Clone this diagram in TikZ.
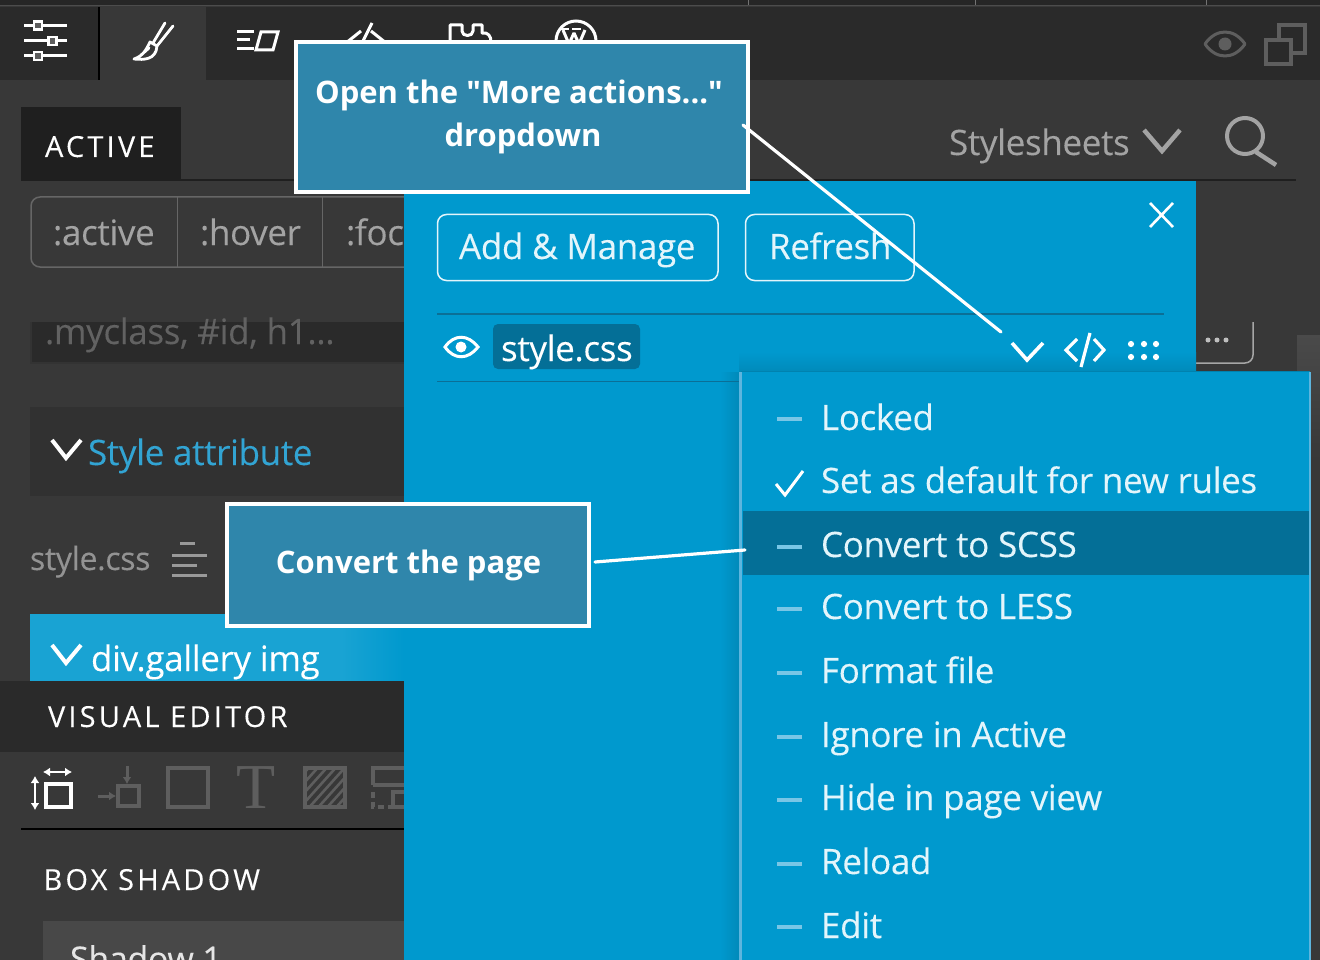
\documentclass[tikz,border=0pt]{standalone}
\usepackage{fontspec}
\usetikzlibrary{arrows.meta}
\setmainfont[Ligatures=TeXOff,LetterSpace=-1,FakeBold=0.15]{Open Sans}
\newfontfamily\spaced[LetterSpace=11,FakeBold=0.15]{Open Sans}
\newfontfamily\calfont[Ligatures=TeXOff]{Open Sans}
\definecolor{bgd}{HTML}{383838}
\definecolor{bar}{HTML}{2A2A2A}
\definecolor{panel}{HTML}{0099CE}
\definecolor{hl}{HTML}{046F97}
\definecolor{cal}{HTML}{2F86AB}
\definecolor{gtxt}{HTML}{A3A3A3}
\definecolor{gicon}{HTML}{5E5E5E}
\definecolor{ltxt}{HTML}{E3F5FB}
\definecolor{rule}{HTML}{0B6F96}
\definecolor{styl}{HTML}{32A4D3}
\definecolor{edge}{HTML}{5DB5DE}
\definecolor{dashc}{HTML}{79C6E6}
\tikzset{
 x=1pt,y=-1pt,
 flat/.style={fill=#1,draw=none},
 callout/.style={draw=white,line width=4pt,fill=cal,inner sep=0pt},
 calltext/.style={inner sep=0pt,text=white,align=center,font=\calfont\fontsize{31}{43}\selectfont\bfseries},
 leader/.style={draw=white,line width=3.2pt,line cap=round},
 ico/.style={draw=#1,line width=3pt,line cap=butt,line join=miter},
 dashmark/.style={draw=dashc,line width=4pt},
 btn/.style={draw=ltxt,line width=1.5pt,rounded corners=9pt},
 lb/.style={anchor=base west,inner sep=0pt,outer sep=0pt},
}
\newcommand{\lbl}[6]{\node[lb,text=#5,font=\fontsize{#4}{#4}\selectfont] (#1) at (#2,#3) {#6};}
\newcommand{\slbl}[6]{\node[lb,text=#5,font=\spaced\fontsize{#4}{#4}\selectfont] (#1) at (#2,#3) {#6};}
\begin{document}
\begin{tikzpicture}
\useasboundingbox (0,0) rectangle (1320,960);
% backgrounds
\fill[bgd] (0,0) rectangle (1320,960);
\fill[flat=black!85] (0,0) rectangle (1320,5);
\draw[draw=black!70,line width=1.5pt] (0,5.5) -- (1320,5.5);
\fill[bar] (0,7) rectangle (1320,80);
\fill[bgd] (100,7) rectangle (206,80);
\draw[black,line width=1.5pt] (99,7) -- (99,80);
\foreach \vx in {748,975,1206}{\draw[black!55,line width=1pt] (\vx,0) -- (\vx,5);}
% toolbar icons
\foreach \yy/\xk in {25.5/38,41/52.5,56/38}{
 \draw[ico=white] (24,\yy) -- (66.5,\yy);
 \draw[white,line width=2.8pt,fill=bar!40!gray] (\xk-4,\yy-4) rectangle (\xk+4,\yy+4);}
\draw[white,line width=2.8pt,line join=round,line cap=round] (165,23) -- (153,43) (173,26) -- (157,46)
  (150,42) .. controls (146,50) and (143,56) .. (134,59) .. controls (144,60) and (156,60) .. (157,46) -- cycle
  (140,56) -- (149,48);
\draw[white,line width=3pt] (237,31.5) -- (254,31.5) (237,40) -- (250,40) (237,49) -- (254,49);
\draw[white,line width=3pt] (261,32) -- (278,32) -- (273,50) -- (256,50) -- cycle;
\draw[white,line width=3pt] (361,31) -- (346,43) (371,31) -- (386,43) (372,23) -- (362,43);
\draw[white,line width=3pt,line join=round] (450,44) -- (450,25) -- (462,25) -- (462,31) .. controls (462,37) and (473,37) .. (473,31) -- (473,25) -- (482,25) -- (482,33) .. controls (488,32) and (491,36) .. (491,42);
\draw[white,line width=3pt] (576,41) circle (20);
\draw[white,line width=3pt,line join=bevel] (563,30) -- (569,44) -- (574,33) -- (579,44) -- (585,30);
\draw[white,line width=2.4pt] (560,29) -- (569,29) (572,29) -- (581,29);
% right toolbar icons
\draw[gicon,line width=3pt,line join=round] (1205,44) .. controls (1216,28) and (1234,28) .. (1245,44) .. controls (1234,60) and (1216,60) .. (1205,44) -- cycle;
\fill[gicon] (1225,44) circle (6.5);
\draw[gicon,line width=3.5pt] (1279,40) -- (1279,25) -- (1305,25) -- (1305,53) -- (1291,53);
\draw[gicon,line width=3.5pt] (1266,40) rectangle (1291,64);
% Active header
\fill[black!88] (21,107) rectangle (181,180);
\draw[black!88,line width=2pt] (21,180) -- (1296,180);
\slbl{active}{45}{157}{29}{white}{ACTIVE}
\lbl{sheets}{949}{155}{35}{gtxt}{Stylesheets}
\draw[gtxt,line width=4.5pt] (1144,130) -- (1162,151) -- (1180,130);
\draw[gtxt,line width=4pt] (1245,136) circle (18);
\draw[gtxt,line width=4.5pt] (1256,152) -- (1276,165);
% pseudo-class buttons
\draw[black!45!white!55!bgd,line width=1.5pt,rounded corners=9pt] (31,197) rectangle (440,267);
\draw[black!45!white!55!bgd,line width=1.5pt] (177.5,197) -- (177.5,267) (322.5,197) -- (322.5,267);
\lbl{pa}{53}{245}{35}{gtxt}{:active}
\lbl{ph}{200}{245}{35}{gtxt}{:hover}
\lbl{pf}{346}{245}{35}{gtxt}{:foc}
% selector input
\fill[black!25!bgd] (31,322) rectangle (404,363);
\draw[black!80,line width=1.5pt] (31,322) -- (31,363) -- (404,363);
\lbl{sel}{45}{344}{35}{black!40!gtxt}{.myclass, \#id, h1...}
% style attribute
\fill[black!12!bgd] (30,407) rectangle (404,496);
\draw[white,line width=4pt] (52,440) -- (66,458) -- (81,440);
\lbl{sattr}{88}{465}{35}{styl}{Style attribute}
% style.css row
\lbl{scss}{30}{570}{32}{gray!85}{style.css}
\draw[gray!80,line width=3pt] (180,543.5) -- (195,543.5) (172,555) -- (207,555) (172,565) -- (197,565) (172,575) -- (207,575);
% div gallery row
\fill[flat={panel!90!white}] (30,614) rectangle (404,681);
\shade[left color=panel!90!white,right color=panel] (340,614) rectangle (404,681);
\draw[white,line width=4pt] (52,645) -- (66,663) -- (81,645);
\lbl{gal}{91}{671}{35}{white}{div.gallery img}
% visual editor
\fill[bar] (0,681) rectangle (404,752);
\slbl{vis}{48}{727}{29}{white}{VISUAL EDITOR}
\draw[black,line width=2.5pt] (21,829) -- (404,829);
\draw[white,line width=3.6pt] (46,784) rectangle (71,807);
\draw[white,line width=2.4pt,{Latex[length=7pt,width=9pt]}-{Latex[length=7pt,width=9pt]}] (43,772) -- (72,772);
\draw[white,line width=2.4pt,{Latex[length=7pt,width=9pt]}-{Latex[length=7pt,width=9pt]}] (35,776) -- (35,810);
\draw[gicon,line width=3.4pt] (118,786) rectangle (139,806);
\draw[gicon,line width=3pt,-{Latex[length=7pt,width=9pt]}] (127,766) -- (127,784);
\draw[gicon,line width=3pt,-{Latex[length=7pt,width=9pt]}] (98,796) -- (116,796);
\draw[gicon,line width=4pt] (168,768) rectangle (208,807);
\node[inner sep=0pt,text=gicon,font=\fontsize{64}{64}\selectfont] (tee) at (256,788) {\fontspec{Liberation Serif}T};
\begin{scope}
\clip (305,768) rectangle (345,807);
\foreach \k in {-45,-36,...,45}{\draw[gicon,line width=2.6pt] (305+\k,812) -- (349+\k,763);}
\end{scope}
\draw[gicon,line width=4pt] (305,768) rectangle (345,807);
\draw[gicon,line width=3.4pt] (373,785) -- (373,768) -- (404,768) (373,785) -- (404,785);
\draw[gicon,line width=3.4pt,dash pattern=on 6pt off 4pt] (373,792) -- (373,807) -- (392,807);
\draw[gicon,line width=3.4pt] (404,792) -- (393,792) -- (393,807) -- (404,807);
\slbl{boxs}{43.5}{890}{29}{white}{BOX SHADOW}
\fill[white!8!bgd] (43,921) rectangle (404,960);
\lbl{shad}{70}{971}{34}{white!90!black}{Shadow 1}
% right remnant
\shade[top color=white!9!bgd,bottom color=bgd] (1297,335) rectangle (1320,460);
\draw[gray!70,line width=1.5pt,rounded corners=8pt] (1196,363) -- (1253,363) -- (1253,322);
\fill[black!25!white] (1208,340) circle (2.5) (1217,340) circle (2.5) (1226,340) circle (2.5);
% blue panel
\fill[panel] (404,181) rectangle (1196,960);
\draw[btn] (437.5,214.5) rectangle (718,280.5);
\lbl{am}{459}{259}{35}{ltxt}{Add \& Manage}
\draw[btn] (745.5,214.5) rectangle (914,280.5);
\lbl{rf}{769}{259}{35}{ltxt}{Refresh}
\draw[white,line width=2.6pt] (1150,203) -- (1173,227) (1173,203) -- (1150,227);
\draw[rule,line width=1.5pt] (437,314) -- (1164,314);
\shade[top color=panel,bottom color=black!10!panel] (739,352) rectangle (1196,372);
\shade[left color=panel,right color=black!10!panel] (720,372) rectangle (739,960);
\draw[rule,line width=1.5pt] (437,381.5) -- (739,381.5);
\draw[white,line width=3pt] (445,347) .. controls (454,334) and (468,334) .. (478,347) .. controls (468,360) and (454,360) .. (445,347) -- cycle;
\fill[white] (461,347) circle (5.5);
\fill[hl,rounded corners=5pt] (493,324) rectangle (640,369);
\lbl{sty}{501}{361}{35}{white}{style.css}
\draw[white,line width=3.6pt] (1012,343) -- (1027,360) -- (1043,343);
\draw[white,line width=3.2pt] (1077,339) -- (1066,350) -- (1077,361) (1094,339) -- (1104,350) -- (1094,361);
\draw[white,line width=3.2pt] (1090,333) -- (1081,367);
\foreach \dx in {1131,1144,1156}{\foreach \dy in {344,357}{\fill[white] (\dx,\dy) circle (3.1);}}
% dropdown
\fill[panel] (741,372) rectangle (1310,960);
\draw[edge,line width=2.5pt] (740.5,960) -- (740.5,372);
\draw[edge,line width=2pt] (1310,372) -- (1310,960);
\draw[black!15!panel,line width=1pt] (741,371.5) -- (1310,371.5);
\fill[hl] (743,511) rectangle (1309,575);
\foreach \nm/\by/\txt in {
 mlock/430/Locked,
 mdef/493/Set as default for new rules,
 mscss/557/Convert to SCSS,
 mless/619/Convert to LESS,
 mfmt/683/Format file,
 mign/747/Ignore in Active,
 mhide/810/Hide in page view,
 mrel/874/Reload,
 medit/938/Edit}{
 \lbl{\nm}{821}{\by}{35}{ltxt}{\txt}
}
\foreach \by in {419,547,609,673,737,800,864,927}{\draw[dashmark] (777,\by) -- (802,\by);}
\draw[white,line width=3pt] (776,484) -- (785,495) -- (803,471);
% callouts
\node[callout,minimum width=452pt,minimum height=150pt,anchor=north west] (c1) at (294,40) {};
\node[calltext] (c1t) at (519,117) {Open the "More actions..."\\\hspace*{8pt}dropdown};
\node[callout,minimum width=362pt,minimum height=122pt,anchor=north west] (c2) at (225,502) {};
\node[calltext] (c2t) at (408.5,565) {Convert the page};
% leaders
\coordinate (a1) at (743,125);
\coordinate (a2) at (1001,332);
\coordinate (b1) at (595,562);
\coordinate (b2) at (745,550);
\draw[leader] (a1) -- (a2);
\draw[leader] (b1) -- (b2);
\end{tikzpicture}
\end{document}
